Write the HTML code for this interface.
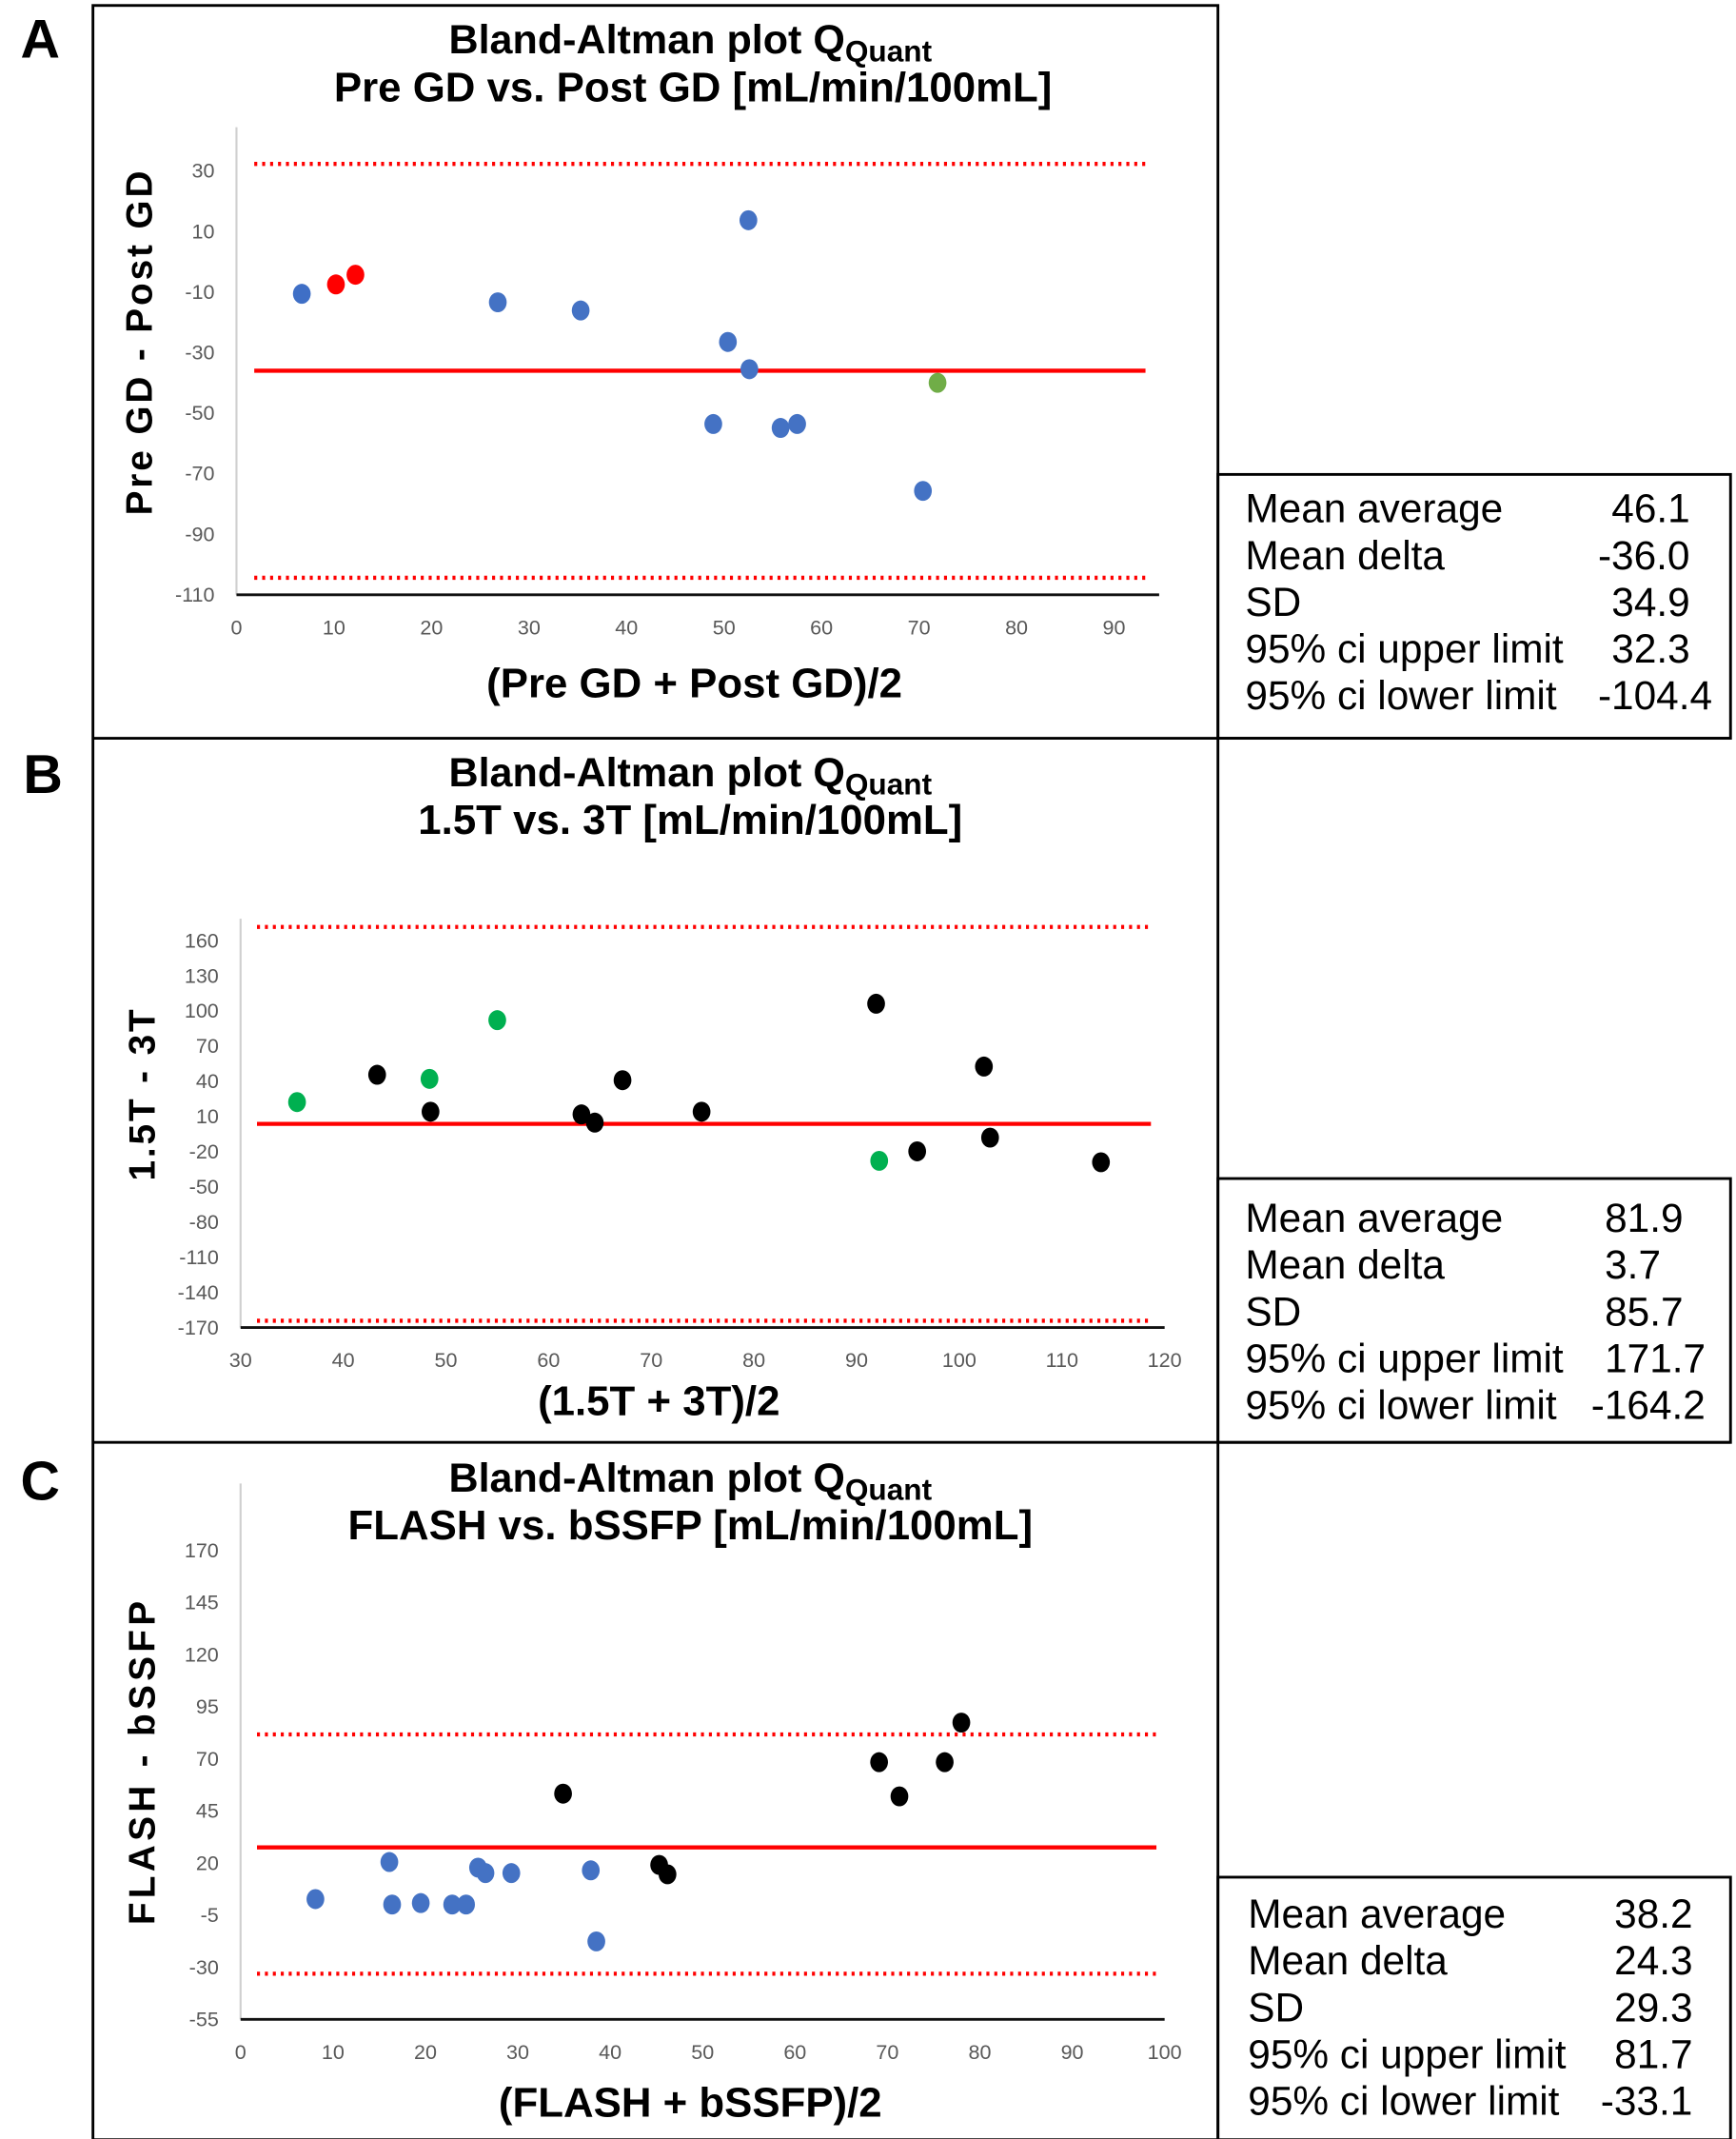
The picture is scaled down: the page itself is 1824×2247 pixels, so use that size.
<!DOCTYPE html>
<html><head><meta charset="utf-8"><style>
html,body{margin:0;padding:0;background:#fff}
svg{display:block;font-family:"Liberation Sans",Arial,sans-serif}
</style></head><body>
<svg id="fig" width="1824" height="2247" viewBox="0 0 1270 1564.5" preserveAspectRatio="none" xmlns="http://www.w3.org/2000/svg">
<g fill="none" stroke="#000" stroke-width="2">
<rect x="68" y="4" width="823" height="1561"/>
<line x1="68" y1="540" x2="1266" y2="540"/>
<line x1="68" y1="1055" x2="1266" y2="1055"/>
<rect x="891" y="347" width="375" height="193"/>
<rect x="891" y="862" width="375" height="193"/>
<rect x="891" y="1373" width="375" height="192"/>
</g>
<g font-weight="bold" font-size="40">
<text x="15" y="42">A</text>
<text x="17" y="580">B</text>
<text x="15" y="1097">C</text>
</g>
</svg>
<script>
// Panel A data
const aX=[6.7,10.2,12.2,26.8,35.3,52.5,50.4,52.6,48.9,55.8,57.5,70.4,71.9];
const aY=[-10.6,-7.5,-4.3,-13.4,-16.1,13.7,-26.5,-35.5,-53.6,-54.9,-53.6,-75.7,-40];
const aC=["#3f6fc6","#ff0000","#ff0000","#4472c4","#4472c4","#4472c4","#4472c4","#4472c4","#4472c4","#4472c4","#4472c4","#4472c4","#70ad47"];
const aXTicks=[0,10,20,30,40,50,60,70,80,90];
const aYTicks=[30,10,-10,-30,-50,-70,-90,-110];
const aLines=[32.3,-36.0,-104.4];
const aStats=["46.1","-36.0","34.9","32.3","-104.4"];
// Panel B data
const bX=[35.5,48.4,55.0,92.2,43.3,48.5,63.2,64.5,67.2,74.9,91.9,95.9,102.4,103,113.8];
const bY=[22.3,42.1,92.2,-27.8,45.6,14.1,11.8,4.8,41,14.1,106.2,-19.7,52.6,-8,-29];
const bC=["#00b050","#00b050","#00b050","#00b050","#000","#000","#000","#000","#000","#000","#000","#000","#000","#000","#000"];
const bXTicks=[30,40,50,60,70,80,90,100,110,120];
const bYTicks=[160,130,100,70,40,10,-20,-50,-80,-110,-140,-170];
const bLines=[171.7,3.7,-164.2];
const bStats=["81.9","3.7","85.7","171.7","-164.2"];
// Panel C data
const cX=[8.1,16.1,16.4,19.5,22.9,24.4,25.7,26.5,29.3,37.9,38.5,34.9,45.3,46.2,69.1,71.3,76.2,78];
const cY=[2.7,20.5,0.1,0.8,0.1,0.1,17.8,15.2,15.2,16.5,-17.6,53.3,19.1,14.6,68.4,52,68.4,87.4];
const cC=["#4472c4","#4472c4","#4472c4","#4472c4","#4472c4","#4472c4","#4472c4","#4472c4","#4472c4","#4472c4","#4472c4","#000","#000","#000","#000","#000","#000","#000"];
const cXTicks=[0,10,20,30,40,50,60,70,80,90,100];
const cYTicks=[170,145,120,95,70,45,20,-5,-30,-55];
const cLines=[81.7,27.5,-33.1];
const cStats=["38.2","24.3","29.3","81.7","-33.1"];
const statLabels=["Mean average","Mean delta","SD","95% ci upper limit","95% ci lower limit"];

const NS="http://www.w3.org/2000/svg";
const svg=document.getElementById('fig');
function mk(tag,attrs,parent){const e=document.createElementNS(NS,tag);for(const k in attrs)e.setAttribute(k,attrs[k]);(parent||svg).appendChild(e);return e;}

function panel(id,cfg,xs,ys,cols,xt,yt,lines,stats){
  const g=mk('g',{});
  
  
  const sx=v=>cfg.x0+(v-cfg.xmin)*(cfg.x1-cfg.x0)/(cfg.xmax-cfg.xmin);
  const sy=v=>cfg.yb-(v-cfg.ymin)*(cfg.yb-cfg.yt)/(cfg.ymax-cfg.ymin);
  const t=mk('text',{x:505,y:cfg.ty,'text-anchor':'middle','font-size':30,'font-weight':'bold'},g);
  
  
  t.appendChild(document.createTextNode('Bland-Altman plot Q'));
  const sub=mk('tspan',{'font-size':22,dy:6},t);sub.textContent='Quant';
  const t2=mk('text',{x:cfg.t2x,y:cfg.ty+35,'text-anchor':'middle','font-size':30.5,'font-weight':'bold'},g);
  
  
  t2.textContent=cfg.t2;
  const ya=mk('line',{x1:cfg.x0,y1:cfg.yaxTop,x2:cfg.x0,y2:cfg.yb,stroke:'#d0d0d0','stroke-width':1.5},g);
  
  
  const xa=mk('line',{x1:cfg.x0,y1:cfg.yb,x2:cfg.xaxEnd,y2:cfg.yb,stroke:'#111','stroke-width':2},g);
  
  
  xt.forEach(v=>{
    const e=mk('text',{x:sx(v),y:cfg.yb+29,'text-anchor':'middle','font-size':15,fill:'#595959'},g);
    
    
    e.textContent=v;
  });
  yt.forEach(v=>{
    const e=mk('text',{x:cfg.x0-16,y:sy(v)+5,'text-anchor':'end','font-size':15,fill:'#595959'},g);
    
    
    e.textContent=v;
  });
  lines.forEach((v,i)=>{
    const l=mk('line',{x1:cfg.lx0,x2:cfg.lx1,y1:sy(v),y2:sy(v),stroke:'#ff0000','stroke-width':3},g);
    if(i!==1){l.setAttribute('stroke-dasharray','2.2 3.6');}
    
    
  });
  xs.forEach((v,i)=>{
    const c=mk('ellipse',{cx:sx(v),cy:sy(ys[i]),rx:6.5,ry:7.3,fill:cols[i]},g);
    
    
  });
  const xtl=mk('text',{x:cfg.xtx,y:cfg.xty,'text-anchor':'middle','font-size':30.5,'font-weight':'bold'},g);
  
  
  xtl.textContent=cfg.xtitle;
  const ytl=mk('text',{x:0,y:0,'text-anchor':'middle','font-size':27,'font-weight':'bold','letter-spacing':cfg.yls,transform:'translate('+(cfg.ytx)+','+cfg.yty+') rotate(-90)'},g);
  
  
  ytl.textContent=cfg.ytitle;
  statLabels.forEach((s,i)=>{
    const y=cfg.sy+i*34.2;
    const a=mk('text',{x:cfg.slx,y:y,'font-size':29.5},g);
    
    
    a.textContent=s;
    const b=mk('text',{x:cfg.svx-(stats[i][0]==='-'?10:0),y:y,'font-size':29.5},g);
    
    
    b.textContent=stats[i];
  });
}
panel('a',{x0:173,x1:815,xmin:0,xmax:90,yb:435,yt:125,ymin:-110,ymax:30,yaxTop:93,xaxEnd:848,lx0:186,lx1:838,
  ty:39,t2:'Pre GD vs. Post GD [mL/min/100mL]',t2x:507,xtitle:'(Pre GD + Post GD)/2',xtx:508,xty:510,
  ytitle:'Pre GD - Post GD',ytx:111,yty:250,yls:2,sy:382,slx:911,svx:1179},aX,aY,aC,aXTicks,aYTicks,aLines,aStats);
panel('b',{x0:176,x1:852,xmin:30,xmax:120,yb:971,yt:688,ymin:-170,ymax:160,yaxTop:672,xaxEnd:852,lx0:188,lx1:842,
  ty:575,t2:'1.5T vs. 3T [mL/min/100mL]',t2x:505,xtitle:'(1.5T + 3T)/2',xtx:482,xty:1035,
  ytitle:'1.5T - 3T',ytx:113,yty:800,yls:2,sy:901,slx:911,svx:1174},bX,bY,bC,bXTicks,bYTicks,bLines,bStats);
panel('c',{x0:176,x1:852,xmin:0,xmax:100,yb:1477,yt:1134,ymin:-55,ymax:170,yaxTop:1085,xaxEnd:852,lx0:188,lx1:846,
  ty:1091,t2:'FLASH vs. bSSFP [mL/min/100mL]',t2x:505,xtitle:'(FLASH + bSSFP)/2',xtx:505,xty:1548,
  ytitle:'FLASH - bSSFP',ytx:113,yty:1288,yls:3,sy:1410,slx:913,svx:1181},cX,cY,cC,cXTicks,cYTicks,cLines,cStats);
</script>
</body></html>
